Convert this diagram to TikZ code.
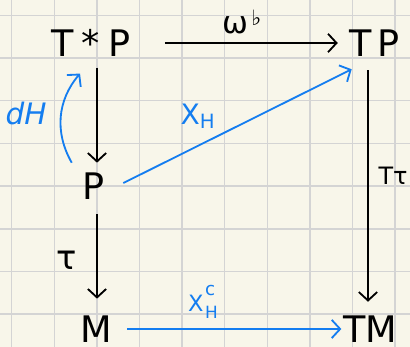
\documentclass[tikz,border=0pt]{standalone}
\usepackage{fontspec}
\setmainfont{DejaVu Sans}
\usepackage{xcolor}
\usetikzlibrary{arrows.meta, positioning}
\definecolor{paper}{RGB}{248,246,234}
\definecolor{gridline}{RGB}{212,212,212}
\definecolor{penblue}{RGB}{20,125,240}

\begin{document}
\begin{tikzpicture}[
    x=0.025cm, y=-0.025cm,
    obj/.style={inner sep=0pt, font=\fontsize{26}{30}\selectfont},
    lbl/.style={inner sep=0pt, font=\fontsize{20}{24}\selectfont},
    arrow/.style={line width=1.3pt, -{Straight Barb[length=6pt,width=13pt]}},
    barrow/.style={arrow, penblue}
]
\fill[paper] (0,0) rectangle (410,347);
\useasboundingbox (0,0) rectangle (410,347);
\foreach \gx in {0,...,9}
    \draw[gridline, line width=1.1pt] (11.7+42.6*\gx,0) -- (11.7+42.6*\gx,347);
\foreach \gy in {0,...,7}
    \draw[gridline, line width=1.1pt] (0,15.3+42.7*\gy) -- (410,15.3+42.7*\gy);

\node[obj] (TsP) at (91,43) {T\hspace{6pt}*\hspace{6pt}P};
\node[obj] (TP) at (375,43) {T\hspace{4pt}P};
\node[obj] (P) at (94,186) {P};
\node[obj] (M) at (96,329) {M};
\node[obj] (TM) at (370,329) {TM};
\coordinate (colL) at (97,0);
\coordinate (colR) at (368,0);

\draw[arrow, shorten <=24pt, shorten >=8.5pt] (TsP.east) -- (TP.west);
\draw[arrow, shorten <=7.6pt, shorten >=6.9pt] (TsP.south -| colL) -- (P.north -| colL);
\draw[arrow, shorten <=10.5pt, shorten >=11.9pt] (P.south -| colL) -- (M.north -| colL);
\draw[arrow, shorten <=9.7pt, shorten >=9.7pt] (TP.south -| colR) -- (TM.north -| colR);
\draw[barrow, shorten <=10.8pt, shorten >=1pt] (M.east) -- (TM.west);
\draw[barrow] ([xshift=12.8pt,yshift=2.1pt]P.east) -- ([xshift=1.4pt,yshift=-9pt]TP.south west);
\draw[barrow] ([xshift=-7.8pt,yshift=6.9pt]P.north west) to[bend left=35] ([xshift=-7.8pt,yshift=-11.9pt]TsP.south);

\node[lbl, font=\fontsize{22}{26}\selectfont] (omega) at (242,22) {ω\kern2pt\raisebox{6pt}{\fontsize{15}{17}\selectfont ♭}};
\node[lbl, penblue] (XH) at (198,116) {X\textsubscript{H}};
\node[lbl, font=\fontsize{17}{20}\selectfont] (Ttau) at (393,176) {Tτ};
\node[lbl, font=\fontsize{24}{28}\selectfont] (tau) at (67,260) {τ};
\node[lbl, penblue, font=\fontsize{21}{24}\selectfont\itshape] (dH) at (26,113) {dH};
\node[lbl, penblue, font=\fontsize{16}{19}\selectfont] (XHc) at (203,302) {X\kern1pt\rlap{\raisebox{11pt}{\fontsize{13}{15}\selectfont c}}\raisebox{-5pt}{\fontsize{12}{14}\selectfont H}};
\end{tikzpicture}
\end{document}
